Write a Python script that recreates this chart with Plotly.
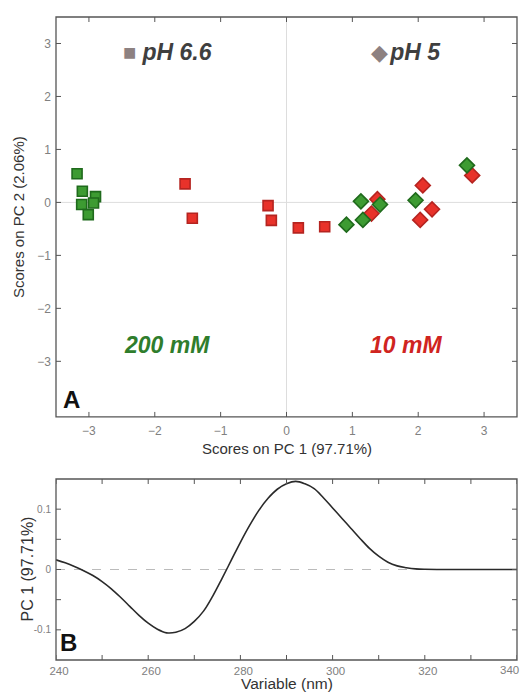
import plotly.graph_objects as go

# ---- Scores (panel A) ----
g_sq_x = [-3.18, -3.10, -2.90, -3.11, -2.93, -3.01]
g_sq_y = [0.54, 0.21, 0.11, -0.04, -0.01, -0.23]
r_sq_x = [-1.54, -1.43, -0.28, -0.23, 0.18, 0.58]
r_sq_y = [0.35, -0.30, -0.06, -0.34, -0.48, -0.46]
g_di_x = [0.91, 1.13, 1.16, 1.42, 1.96, 2.74]
g_di_y = [-0.42, 0.02, -0.33, -0.04, 0.04, 0.70]
r_di_x = [1.38, 1.29, 2.07, 2.03, 2.21, 2.82]
r_di_y = [0.06, -0.21, 0.32, -0.33, -0.13, 0.51]

# ---- Loadings (panel B) ----
wl = [240, 242, 244, 246, 248, 250, 252, 254, 256, 258, 260, 262, 264, 266, 268,
      270, 272, 274, 276, 278, 280, 282, 284, 286, 288, 290, 292, 294, 296, 298,
      300, 302, 304, 306, 308, 310, 312, 314, 316, 318, 320, 325, 330, 335, 340]
pc1 = [0.016, 0.011, 0.005, -0.002, -0.010, -0.020, -0.032, -0.046, -0.061, -0.076,
       -0.089, -0.099, -0.105, -0.104, -0.098, -0.086, -0.069, -0.044, -0.015, 0.015,
       0.045, 0.073, 0.098, 0.118, 0.133, 0.142, 0.146, 0.142, 0.134, 0.119,
       0.102, 0.085, 0.068, 0.051, 0.035, 0.022, 0.012, 0.006, 0.003, 0.001,
       0.0003, 0.0, 0.0, 0.0, 0.0]

xa_ticks = [-3, -2, -1, 0, 1, 2, 3]
ya_ticks = [-3, -2, -1, 0, 1, 2, 3]
xb_ticks = [240, 250, 260, 270, 280, 290, 300, 310, 320, 330, 340]
xb_text = ["240", "", "260", "", "280", "", "300", "", "320", "", ""]
xb_last_label = "340"   # drawn right-aligned at the panel edge
yb_ticks = [-0.1, -0.05, 0, 0.05, 0.1]
yb_text = ["-0.1", "", "0", "", "0.1"]

GREEN_F, GREEN_L = "#3d9b32", "#1f6a1c"
RED_F, RED_L = "#e8322a", "#b52420"
FONT = "Liberation Sans, Arial, sans-serif"
AX = "#555555"
TICKC = "#808080"
TL = 5  # tick length (px)

fig = go.Figure()

def sc(x, y, sym, fill, line, size):
    fig.add_trace(go.Scatter(x=x, y=y, mode="markers", xaxis="x", yaxis="y",
                             marker=dict(symbol=sym, size=size, color=fill,
                                         line=dict(color=line, width=1.6)),
                             showlegend=False, hoverinfo="skip"))

sc(r_sq_x, r_sq_y, "square", RED_F, RED_L, 10)
sc(g_sq_x, g_sq_y, "square", GREEN_F, GREEN_L, 10)
sc(r_di_x, r_di_y, "diamond", RED_F, RED_L, 11.5)
sc(g_di_x, g_di_y, "diamond", GREEN_F, GREEN_L, 11.5)

fig.add_trace(go.Scatter(x=wl, y=pc1, mode="lines", xaxis="x2", yaxis="y2",
                         line=dict(color="#2a2a2a", width=1.6, shape="spline",
                                   smoothing=1.0),
                         showlegend=False, hoverinfo="skip"))

def axis(**kw):
    d = dict(showline=False, ticks="", showgrid=False, zeroline=False,
             ticklabeloverflow="allow",
             tickfont=dict(family=FONT, size=12, color=TICKC))
    d.update(kw)
    return d

YA = [0.378, 1]
YB = [0, 0.2815]

fig.update_layout(
    width=522, height=694,
    margin=dict(l=56, r=5, t=17, b=34, autoexpand=False),
    paper_bgcolor="white", plot_bgcolor="white",
    font=dict(family=FONT),
    xaxis=axis(domain=[0, 1], range=[-3.5, 3.5], tickvals=xa_ticks, anchor="y",
               ticklabelstandoff=5),
    yaxis=axis(domain=YA, range=[-4.05, 3.5], tickvals=ya_ticks, anchor="x",
               ticklabelstandoff=4),
    xaxis2=axis(domain=[0, 1], range=[240, 340], tickvals=xb_ticks, ticktext=xb_text,
                anchor="y2", ticklabelstandoff=2, ticklabelshift=3,
                tickfont=dict(family=FONT, size=11.5, color=TICKC)),
    yaxis2=axis(domain=YB, range=[-0.15, 0.15], tickvals=yb_ticks,
                ticktext=yb_text, anchor="x2", ticklabelstandoff=4,
                tickfont=dict(family=FONT, size=10, color=TICKC)),
)

# zero lines
fig.add_shape(type="line", xref="x", yref="paper", x0=0, x1=0, y0=YA[0], y1=YA[1],
              line=dict(color="#dddddd", width=1), layer="below")
fig.add_shape(type="line", xref="paper", yref="y", x0=0, x1=1, y0=0, y1=0,
              line=dict(color="#dddddd", width=1), layer="below")
fig.add_shape(type="line", xref="paper", yref="y2", x0=0, x1=1, y0=0, y1=0,
              line=dict(color="#bbbbbb", width=1.2, dash="dash"), layer="below")

# inside tick marks on all four sides (from the tick lists)
tick_line = dict(color=AX, width=1)
def xticks(ref, vals, dom):
    for v in vals:
        for anchor, y0, y1 in ((dom[0], 0, TL), (dom[1], 0, -TL)):
            fig.add_shape(type="line", xref=ref, yref="paper", ysizemode="pixel",
                          yanchor=anchor, x0=v, x1=v, y0=y0, y1=y1, line=tick_line)
def yticks(ref, vals):
    for v in vals:
        for anchor, x0, x1 in ((0, 0, TL), (1, 0, -TL)):
            fig.add_shape(type="line", yref=ref, xref="paper", xsizemode="pixel",
                          xanchor=anchor, y0=v, y1=v, x0=x0, x1=x1, line=tick_line)
xticks("x", xa_ticks, YA)
yticks("y", ya_ticks)
xticks("x2", xb_ticks, YB)
yticks("y2", yb_ticks)

# panel frames
fig.add_shape(type="rect", xref="paper", yref="paper", x0=0, x1=1, y0=YA[0], y1=YA[1],
              line=dict(color=AX, width=1.3), layer="above")
fig.add_shape(type="rect", xref="paper", yref="paper", x0=0, x1=1, y0=YB[0], y1=YB[1],
              line=dict(color=AX, width=1.3), layer="above")

ann = []
# last x tick label of panel B, kept inside the page
ann.append(dict(text=xb_last_label, xref="paper", yref="paper", x=1, xshift=4,
                y=0, yshift=-2, xanchor="right", yanchor="top", showarrow=False,
                font=dict(size=11.5, color=TICKC)))
# axis titles
ann.append(dict(text="Scores on PC 1 (97.71%)", xref="paper", yref="paper", x=0.5,
                y=(660 - 448) / 643, showarrow=False, yanchor="middle",
                font=dict(size=15, color="#333333")))
ann.append(dict(text="Variable (nm)", xref="paper", yref="paper", x=0.5,
                y=0, yshift=-(694 - 660) + 0, showarrow=False, yanchor="bottom",
                font=dict(size=15.5, color="#333333")))
ann.append(dict(text="Scores on PC 2 (2.06%)", xref="paper", yref="paper", x=0,
                xshift=-38, y=(660 - 217) / 643, showarrow=False, textangle=-90,
                xanchor="center", yanchor="middle", font=dict(size=15, color="#333333")))
ann.append(dict(text="PC 1 (97.71%)", xref="paper", yref="paper", x=0,
                xshift=-29, y=(660 - 569.5) / 643, showarrow=False, textangle=-90,
                xanchor="center", yanchor="middle", font=dict(size=16, color="#333333")))
# group labels
ann.append(dict(text="<span style='font-size:22px;color:#8d8181'>■ </span><b><i>pH 6.6</i></b>",
                xref="x", yref="y", x=-2.52, y=2.83, xanchor="left", yanchor="middle",
                showarrow=False, font=dict(size=23, color="#3f3f3f")))
ann.append(dict(text="<span style='font-size:22px;color:#8d8181'>◆</span><span style='font-size:8px'> </span><b><i>pH 5</i></b>",
                xref="x", yref="y", x=1.25, y=2.83, xanchor="left", yanchor="middle",
                showarrow=False, font=dict(size=23, color="#3f3f3f")))
ann.append(dict(text="<b><i>200 mM</i></b>", xref="x", yref="y", x=-1.81, y=-2.69,
                showarrow=False, font=dict(size=23, color="#2f7d2c")))
ann.append(dict(text="<b><i>10 mM</i></b>", xref="x", yref="y", x=1.82, y=-2.69,
                showarrow=False, font=dict(size=23, color="#d02420")))
# panel letters
ann.append(dict(text="<b>A</b>", xref="paper", yref="paper", x=0, xshift=5,
                y=(660 - 415) / 643, xanchor="left", yanchor="bottom", showarrow=False,
                font=dict(size=24, color="#111111")))
ann.append(dict(text="<b>B</b>", xref="paper", yref="paper", x=0, xshift=2,
                y=0, yshift=2, xanchor="left", yanchor="bottom", showarrow=False,
                font=dict(size=24, color="#111111")))
fig.update_layout(annotations=ann)

fig.write_html("out.html", config={"displayModeBar": False},
               post_script="document.body.style.margin='0';document.body.style.overflow='hidden';")
